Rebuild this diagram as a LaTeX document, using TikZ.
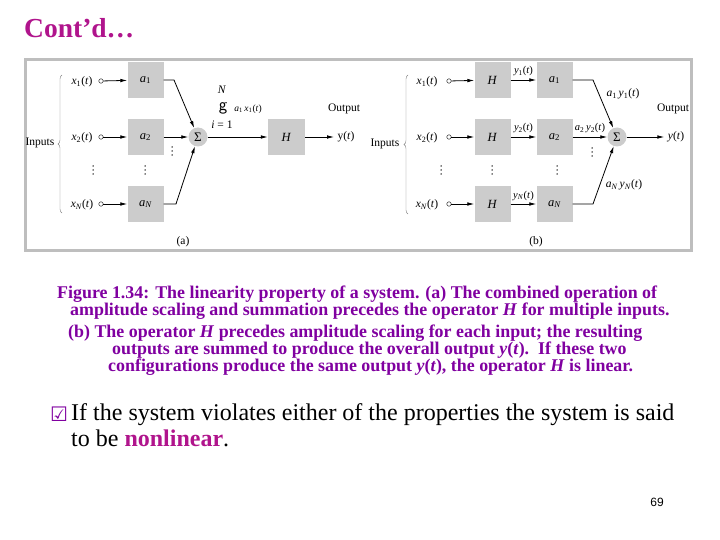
\documentclass[tikz,border=0pt]{standalone}
\usepackage{fontspec}
\setmainfont{Liberation Serif}
\newfontfamily\symfont{DejaVu Sans}
\newfontfamily\pagefont{Liberation Sans}
\usepackage{xcolor}
\usetikzlibrary{arrows.meta,decorations.pathreplacing}

\definecolor{titlemag}{RGB}{176,20,140}
\definecolor{capviolet}{RGB}{128,0,160}
\definecolor{boxgray}{RGB}{204,204,204}
\definecolor{framegray}{RGB}{190,190,190}

\newcommand{\sg}[2]{\textit{#1}\textsubscript{#2}(\textit{t})}
\newcommand{\gn}[1]{\textit{a}\textsubscript{#1}}

\begin{document}
\begin{tikzpicture}[x=1pt, y=-1pt, >={Latex[length=7pt,width=3.6pt]},
    every node/.style={font=\fontsize{11.5}{13}\selectfont},
    gain/.style={rectangle, fill=boxgray, minimum width=36pt, minimum height=36pt, inner sep=0pt, font=\fontsize{12.5}{14}\selectfont},
    adder/.style={circle, fill=boxgray, minimum size=19pt, inner sep=0pt, font=\fontsize{13}{14}\selectfont},
    port/.style={circle, draw=black, thin, minimum size=4.5pt, inner sep=0pt},
    arrow/.style={thick, ->},
    brace/.style={draw=gray, thin, decorate, decoration={brace, amplitude=4pt}},
    capline/.style={anchor=west, inner sep=0pt, text=capviolet, font=\fontsize{17.9}{20}\selectfont\bfseries}]

    \useasboundingbox (0,0) rectangle (720,540);

    % title and frame
    \node[anchor=west, inner sep=0pt, text=titlemag, font=\fontsize{27.5}{30}\selectfont\bfseries] (title) at (24,28) {Cont’d…};
    \draw[framegray, line width=3pt] (25,60) rectangle (691,250);

    % (a) scaling and summing first
    \node (ina) at (40,143) {Inputs};
    \draw[brace] (62,213) -- (62,75);
    \node (xa1) at (82,82) {\sg{x}{1}};
    \node (xa2) at (82,138) {\sg{x}{2}};
    \node (xaN) at (82,205) {\sg{x}{\textit{N}}};
    \node[port] (pa1) at (101,81) {};
    \node[port] (pa2) at (101,137) {};
    \node[port] (paN) at (101,204) {};
    \node[gain] (ga1) at (145.5,80) {\gn{1}};
    \node[gain] (ga2) at (145.5,137) {\gn{2}};
    \node[gain] (gaN) at (145.5,204) {\gn{\textit{N}}};
    \node[adder] (suma) at (198,137) {Σ};
    \node[gain, minimum width=37pt] (ha) at (286.5,137) {\textit{H}};
    \node (ya) at (346,137) {y(\textit{t})};
    \node (outa) at (344,109) {Output};
    \node (nsuma) at (222,90) {\textit{N}};
    \node[font=\fontsize{18}{18}\selectfont\sffamily] (gsuma) at (223,108) {g};
    \node[font=\fontsize{9.5}{10}\selectfont] (tsuma) at (248,109) {\textit{a}\textsubscript{1}\,\textit{x}\textsubscript{1}(\textit{t})};
    \node (isuma) at (222,125) {\textit{i} = 1};
    \node (capa) at (183,242) {(a)};
    \coordinate (ka1) at (174,80);
    \coordinate (kaN) at (176,204);

    \draw[arrow] (pa1) -- (ga1);
    \draw[arrow] (pa2) -- (ga2);
    \draw[arrow] (paN) -- (gaN);
    \draw[arrow] (ga1) -- (ka1) -- (suma);
    \draw[arrow] (ga2) -- (suma);
    \draw[arrow] (gaN) -- (kaN) -- (suma);
    \draw[arrow] (suma) -- (ha);
    \draw[arrow] (ha) -- (ya);

    % (b) operator first, then scaling and summing
    \node (inb) at (385,144) {Inputs};
    \draw[brace] (408,214) -- (408,75);
    \node (xb1) at (427,82) {\sg{x}{1}};
    \node (xb2) at (427,138) {\sg{x}{2}};
    \node (xbN) at (427,205) {\sg{x}{\textit{N}}};
    \node[port] (pb1) at (449,81) {};
    \node[port] (pb2) at (449,137) {};
    \node[port] (pbN) at (449,204) {};
    \node[gain] (hb1) at (492.5,80) {\textit{H}};
    \node[gain] (hb2) at (492.5,137) {\textit{H}};
    \node[gain] (hbN) at (492.5,204) {\textit{H}};
    \node[gain] (gb1) at (554.5,80) {\gn{1}};
    \node[gain] (gb2) at (554.5,137) {\gn{2}};
    \node[gain] (gbN) at (554.5,204) {\gn{\textit{N}}};
    \node[adder] (sumb) at (617,137) {Σ};
    \node (yb) at (676,137) {\textit{y}(\textit{t})};
    \node (outb) at (673,109) {Output};
    \node (capb) at (536,242) {(b)};
    \coordinate (kb1) at (593,80);
    \coordinate (kbN) at (593,204);

    \draw[arrow] (pb1) -- (hb1);
    \draw[arrow] (pb2) -- (hb2);
    \draw[arrow] (pbN) -- (hbN);
    \draw[arrow] (hb1) -- node[above=0pt, font=\fontsize{10.5}{12}\selectfont] {\sg{y}{1}} (gb1);
    \draw[arrow] (hb2) -- node[above=0pt, font=\fontsize{10.5}{12}\selectfont] {\sg{y}{2}} (gb2);
    \draw[arrow] (hbN) -- node[above=0pt, font=\fontsize{10.5}{12}\selectfont] {\sg{y}{\textit{N}}} (gbN);
    \draw[arrow] (gb1) -- (kb1) -- (sumb);
    \draw[arrow] (gb2) -- node[above=0pt, font=\fontsize{10.5}{12}\selectfont] {\textit{a}\textsubscript{2}\,\sg{y}{2}} (sumb);
    \draw[arrow] (gbN) -- (kbN) -- (sumb);
    \draw[arrow] (sumb) -- (yb);
    \node (lb1) at (623,94) {\textit{a}\textsubscript{1}\,\sg{y}{1}};
    \node (lbN) at (624,185) {\textit{a}\textsubscript{\textit{N}}\,\sg{y}{\textit{N}}};

    % vertical dots
    \foreach \p in {(93,170),(145,170),(172,151),(441,170),(492,170),(557,170),(592,152)}
        \foreach \d in {-4,0,4}
            \fill \p ++(0,\d) circle (0.75);

    % caption
    \node[capline] (cap1) at (57,294) {Figure 1.34: The linearity property of a system. (a) The combined operation of};
    \node[capline] (cap2) at (70,311) {amplitude scaling and summation precedes the operator \textit{H} for multiple inputs.};
    \node[capline] (cap3) at (68,333) {(b) The operator \textit{H} precedes amplitude scaling for each input; the resulting};
    \node[capline] (cap4) at (112,350) {outputs are summed to produce the overall output \textit{y}(\textit{t}).\ \ If these two};
    \node[capline] (cap5) at (108,367) {configurations produce the same output \textit{y}(\textit{t}), the operator \textit{H} is linear.};

    % bullet
    \node[text=capviolet, inner sep=0pt, font=\fontsize{20}{22}\selectfont\symfont] (tick) at (59,414) {☑};
    \node[anchor=west, inner sep=0pt, font=\fontsize{24}{26}\selectfont] (pt1) at (71,415) {If the system violates either of the properties the system is said};
    \node[anchor=west, inner sep=0pt, font=\fontsize{24}{26}\selectfont] (pt2) at (71,438) {to be \textcolor{titlemag}{\textbf{nonlinear}}.};

    \node[font=\fontsize{12}{14}\selectfont\pagefont] (pnum) at (657,502) {69};
\end{tikzpicture}
\end{document}
